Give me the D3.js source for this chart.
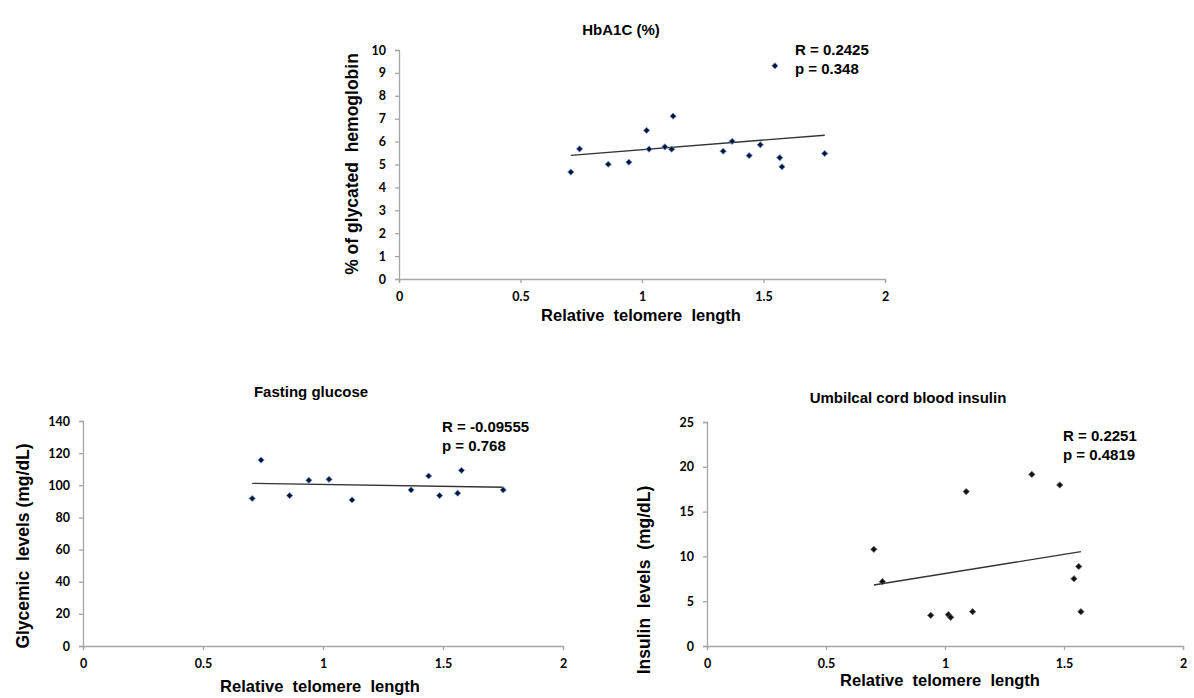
<!DOCTYPE html>
<html>
<head>
<meta charset="utf-8">
<script src="https://cdn.jsdelivr.net/npm/d3@7"></script>
<style>
  body { margin: 0; background: #fff; }
  svg text { font-family: "Liberation Sans", Arial, sans-serif; fill: #000; }
  .tick text { font-family: Lato, "Open Sans", sans-serif; font-weight: 700; font-size: 12.5px; }
</style>
</head>
<body>
<div id="chart"></div>
<script>
// ---- data ----
const xTicks = [0, 0.5, 1, 1.5, 2];

// HbA1C (%)
const hbaX = [0.707, 0.743, 0.861, 0.946, 1.019, 1.029, 1.094, 1.122, 1.128, 1.334, 1.371, 1.441, 1.487, 1.547, 1.567, 1.576, 1.752];
const hbaY = [4.67, 5.68, 5.01, 5.10, 6.49, 5.67, 5.77, 5.67, 7.11, 5.58, 6.01, 5.39, 5.86, 9.31, 5.30, 4.90, 5.48];
const hbaTrend = [[0.707, 5.40], [1.752, 6.28]];
const hbaYTicks = [0, 1, 2, 3, 4, 5, 6, 7, 8, 9, 10];

// Fasting glucose
const gluX = [0.705, 0.742, 0.861, 0.941, 1.025, 1.121, 1.367, 1.440, 1.486, 1.561, 1.577, 1.751];
const gluY = [91.8, 115.7, 93.6, 103.1, 103.7, 90.9, 97.1, 105.8, 93.6, 95.1, 109.3, 97.1];
const gluTrend = [[0.705, 101.2], [1.751, 98.8]];
const gluYTicks = [0, 20, 40, 60, 80, 100, 120, 140];

// Umbilical cord blood insulin
const insX = [0.701, 0.737, 0.940, 1.014, 1.024, 1.089, 1.116, 1.365, 1.482, 1.542, 1.562, 1.571];
const insY = [10.79, 7.18, 3.42, 3.50, 3.20, 17.23, 3.83, 19.15, 17.97, 7.51, 8.87, 3.83];
const insTrend = [[0.701, 6.81], [1.571, 10.53]];
const insYTicks = [0, 5, 10, 15, 20, 25];

const W = 1194, H = 698;
const svg = d3.select('#chart').append('svg').attr('width', W).attr('height', H);

const panels = [
  {
    title: 'HbA1C (%)', titleX: 621, titleY: 35,
    ylabel: '% of glycated  hemoglobin', ylabelX: 358, ylabelY: 164,
    xlabelX: 641, xlabelY: 321,
    xs: hbaX, ys: hbaY, trend: hbaTrend, yTicks: hbaYTicks, ymax: 10,
    x0: 399, x1: 885, yTop: 50, yBot: 279,
    stats: ['R = 0.2425', 'p = 0.348'], statX: 795, statY: 55,
    fill: '#0b1433', stroke: '#5b8fd6'
  },
  {
    title: 'Fasting glucose', titleX: 311, titleY: 397,
    ylabel: 'Glycemic  levels (mg/dL)', ylabelX: 29, ylabelY: 546,
    xlabelX: 320, xlabelY: 692,
    xs: gluX, ys: gluY, trend: gluTrend, yTicks: gluYTicks, ymax: 140,
    x0: 83, x1: 563, yTop: 421, yBot: 646,
    stats: ['R = -0.09555', 'p = 0.768'], statX: 442, statY: 432,
    fill: '#0b1433', stroke: '#5b8fd6'
  },
  {
    title: 'Umbilcal cord blood insulin', titleX: 908, titleY: 403,
    ylabel: 'Insulin  levels  (mg/dL)', ylabelX: 650, ylabelY: 580,
    xlabelX: 940, xlabelY: 686,
    xs: insX, ys: insY, trend: insTrend, yTicks: insYTicks, ymax: 25,
    x0: 707, x1: 1183, yTop: 422, yBot: 646,
    stats: ['R = 0.2251', 'p = 0.4819'], statX: 1063, statY: 441,
    fill: '#111', stroke: '#555'
  }
];

panels.forEach(p => {
  const g = svg.append('g');
  const x = d3.scaleLinear().domain([0, 2]).range([p.x0, p.x1]);
  const y = d3.scaleLinear().domain([0, p.ymax]).range([p.yBot, p.yTop]);

  const xAxis = g.append('g')
    .attr('transform', `translate(0,${p.yBot})`)
    .call(d3.axisBottom(x).tickValues(xTicks).tickFormat(d3.format('')).tickSize(4).tickPadding(9));
  const yAxis = g.append('g')
    .attr('transform', `translate(${p.x0},0)`)
    .call(d3.axisLeft(y).tickValues(p.yTicks).tickFormat(d3.format('')).tickSize(4).tickPadding(9));
  [xAxis, yAxis].forEach(a => {
    a.select('.domain').attr('stroke', '#a6a6a6').attr('stroke-width', 1.3);
    a.selectAll('.tick line').attr('stroke', '#a6a6a6').attr('stroke-width', 1.3);
  });

  // trend line
  g.append('path')
    .datum(p.trend)
    .attr('fill', 'none')
    .attr('stroke', '#333')
    .attr('stroke-width', 1.4)
    .attr('d', d3.line().x(d => x(d[0])).y(d => y(d[1])));

  // points (square turned 45 degrees)
  const pts = p.xs.map((v, i) => [v, p.ys[i]]);
  g.selectAll('path.pt')
    .data(pts)
    .enter()
    .append('path')
    .attr('class', 'pt')
    .attr('d', d3.symbol().type(d3.symbolSquare).size(19))
    .attr('transform', d => `translate(${x(d[0])},${y(d[1])}) rotate(45)`)
    .attr('fill', p.fill)
    .attr('stroke', p.stroke)
    .attr('stroke-width', 0.8);

  g.append('text')
    .attr('x', p.titleX).attr('y', p.titleY)
    .attr('text-anchor', 'middle')
    .attr('font-weight', 'bold').attr('font-size', 15)
    .text(p.title);

  g.append('text')
    .attr('x', p.xlabelX).attr('y', p.xlabelY)
    .attr('text-anchor', 'middle')
    .attr('font-weight', 'bold').attr('font-size', 16.5)
    .style('white-space', 'pre')
    .text('Relative  telomere  length');

  g.append('text')
    .attr('transform', `translate(${p.ylabelX},${p.ylabelY}) rotate(-90)`)
    .attr('text-anchor', 'middle')
    .attr('font-weight', 'bold').attr('font-size', 17.5)
    .style('white-space', 'pre')
    .text(p.ylabel);

  p.stats.forEach((s, i) => {
    g.append('text')
      .attr('x', p.statX).attr('y', p.statY + i * 19)
      .attr('font-weight', 'bold').attr('font-size', 15)
      .text(s);
  });
});
</script>
</body>
</html>
